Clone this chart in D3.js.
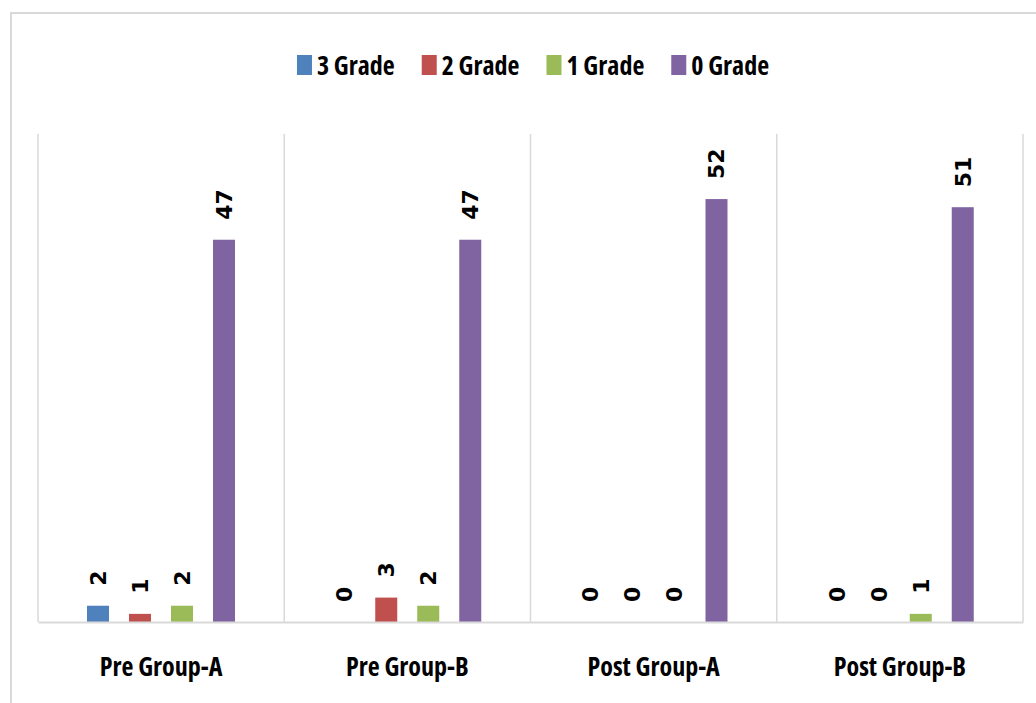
<!DOCTYPE html>
<html>
<head>
<meta charset="utf-8">
<script src="https://cdn.jsdelivr.net/npm/d3@7"></script>
<style>
  body { margin: 0; background: #fff; }
  svg { display: block; }
  .cond { font-stretch: 78%; }
</style>
</head>
<body>
<svg id="chart" width="1036" height="703"></svg>
<script>
const groups = ['Pre Group-A', 'Pre Group-B', 'Post Group-A', 'Post Group-B']
const series = ['3 Grade', '2 Grade', '1 Grade', '0 Grade']
const grade3 = [2, 0, 0, 0]
const grade2 = [1, 3, 0, 0]
const grade1 = [2, 2, 0, 1]
const grade0 = [47, 47, 52, 51]
const colors = ['#4f81bd', '#c0504d', '#9bbb59', '#8064a2']

const values = [grade3, grade2, grade1, grade0]

const plotLeft = 38
const plotRight = 1023
const plotTop = 134
const plotBottom = 622
const labelFont = '"Open Sans", Arial, sans-serif'

const svg = d3.select('#chart')

// outer frame (only top and left edges show in the picture)
svg.append('rect')
  .attr('x', 11).attr('y', 13)
  .attr('width', 1100).attr('height', 800)
  .attr('fill', 'none')
  .attr('stroke', '#d9d9d9')
  .attr('stroke-width', 2)

const x0 = d3.scaleBand().domain(groups).range([plotLeft, plotRight])
const x1 = d3.scaleBand().domain(series).range([49, 197]).paddingInner(0.476)
const y = d3.scaleLinear().domain([0, 60]).range([plotBottom, plotTop])

// group dividers
svg.append('g')
  .selectAll('line')
  .data(groups.concat(['end']))
  .join('line')
  .attr('x1', (d, i) => i < groups.length ? x0(d) : plotRight)
  .attr('x2', (d, i) => i < groups.length ? x0(d) : plotRight)
  .attr('y1', plotTop)
  .attr('y2', plotBottom)
  .attr('stroke', '#d9d9d9')
  .attr('stroke-width', 1.5)

const bars = []
groups.forEach((g, gi) => {
  series.forEach((s, si) => {
    bars.push({ group: g, key: s, value: values[si][gi], color: colors[si] })
  })
})

svg.append('g')
  .selectAll('rect')
  .data(bars)
  .join('rect')
  .attr('x', d => x0(d.group) + x1(d.key))
  .attr('y', d => y(d.value))
  .attr('width', x1.bandwidth())
  .attr('height', d => y(0) - y(d.value))
  .attr('fill', d => d.color)

// value labels, rotated
svg.append('g')
  .selectAll('text')
  .data(bars)
  .join('text')
  .attr('transform', d => `translate(${x0(d.group) + x1(d.key) + x1.bandwidth() / 2},${y(d.value) - 20}) rotate(-90)`)
  .attr('dy', '0.36em')
  .attr('font-family', '"DejaVu Sans", Verdana, sans-serif')
  .attr('font-weight', 'bold')
  .attr('font-size', 22)
  .attr('fill', '#000')
  .text(d => d.value)

// x axis
const xAxis = svg.append('g')
  .attr('transform', `translate(0,${plotBottom})`)
  .call(d3.axisBottom(x0).tickSize(0).tickPadding(0))
xAxis.select('.domain').attr('stroke', '#d9d9d9').attr('stroke-width', 2)
xAxis.selectAll('text')
  .attr('class', 'cond')
  .attr('y', 54)
  .attr('dy', 0)
  .attr('font-family', labelFont)
  .attr('font-weight', 'bold')
  .attr('font-size', 26)
  .attr('fill', '#000')

// legend
const legend = svg.append('g')
const items = legend.selectAll('g')
  .data(series)
  .join('g')
items.append('rect')
  .attr('y', 55)
  .attr('width', 15)
  .attr('height', 20)
  .attr('fill', (d, i) => colors[i])
items.append('text')
  .attr('class', 'cond')
  .attr('x', 20)
  .attr('y', 75)
  .attr('font-family', labelFont)
  .attr('font-weight', 'bold')
  .attr('font-size', 26)
  .attr('fill', '#000')
  .text(d => d)

let pos = 0
items.each(function () {
  const w = d3.select(this).select('text').node().getComputedTextLength()
  d3.select(this).attr('transform', `translate(${pos},0)`)
  pos += 20 + w + 27
})
const total = pos - 27
legend.attr('transform', `translate(${533 - total / 2},0)`)
</script>
</body>
</html>
